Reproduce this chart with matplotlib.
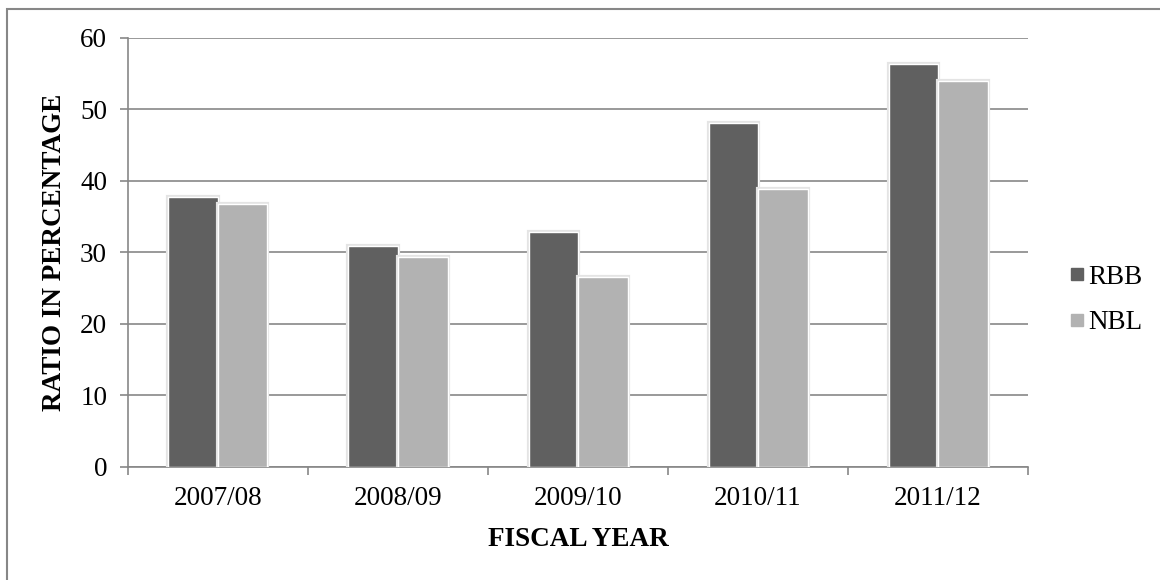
import matplotlib.pyplot as plt
import matplotlib.patheffects as pe
import numpy as np
from matplotlib.lines import Line2D
from matplotlib.patches import Rectangle

plt.rcParams["font.family"] = ["Liberation Serif", "DejaVu Serif"]

years = ["2007/08", "2008/09", "2009/10", "2010/11", "2011/12"]
rbb = [37.7, 30.9, 32.9, 48.1, 56.3]
nbl = [36.8, 29.4, 26.6, 38.9, 54.0]

DARK = "#606060"
LIGHT = "#b2b2b2"
GRID = "#878787"

fig = plt.figure(figsize=(11.6, 5.8), dpi=100)
ax = fig.add_axes([0.1103, 0.195, 0.776, 0.7395])

x = np.arange(len(years))
width = 0.275
shadow = [pe.Stroke(linewidth=3.0, foreground="#e4e4e4"), pe.Normal()]
ax.bar(x - width / 2, rbb, width, color=DARK, edgecolor="white", linewidth=1.0,
       path_effects=shadow, zorder=3, label="RBB")
ax.bar(x + width / 2, nbl, width, color=LIGHT, edgecolor="white", linewidth=1.0,
       path_effects=shadow, zorder=3, label="NBL")

ax.set_xlim(-0.5, len(years) - 0.5)
ax.set_ylim(0, 60)
ax.set_yticks(range(0, 61, 10))
ax.yaxis.grid(True, color=GRID, linewidth=1.2)
ax.set_axisbelow(True)

# category labels sit between the boundary ticks
ax.set_xticks(np.arange(-0.5, len(years), 1.0))
ax.set_xticklabels([])
ax.set_xticks(x, minor=True)
ax.set_xticklabels(years, minor=True)
ax.tick_params(axis="x", which="minor", length=0, pad=14, labelsize=19.5)
ax.tick_params(axis="x", which="major", length=6, color=GRID, width=1.2)
ax.tick_params(axis="y", length=6, color=GRID, width=1.2, labelsize=19.5, pad=9)

for side in ("top", "right"):
    ax.spines[side].set_visible(False)
for side in ("left", "bottom"):
    ax.spines[side].set_color(GRID)
    ax.spines[side].set_linewidth(1.2)

ax.set_xlabel("FISCAL YEAR", fontsize=19.5, fontweight="bold", labelpad=11)
ax.set_ylabel("RATIO IN PERCENTAGE", fontsize=19.5, fontweight="bold", labelpad=9)

handles = [
    Line2D([], [], marker="s", linestyle="none", markersize=8, color=DARK),
    Line2D([], [], marker="s", linestyle="none", markersize=8, color=LIGHT),
]
fig.legend(handles, ["RBB", "NBL"], loc="center left", bbox_to_anchor=(0.9, 0.483),
           frameon=False, fontsize=19.5, handlelength=0.6, handletextpad=0.15,
           labelspacing=0.75)

# chart area outline
fig.patches.append(Rectangle((7 / 1160, -0.1), 1.2, 1.1 - 9 / 580, transform=fig.transFigure,
                             fill=False, edgecolor=GRID, linewidth=1.5))

fig.savefig("out.png", dpi=100)
